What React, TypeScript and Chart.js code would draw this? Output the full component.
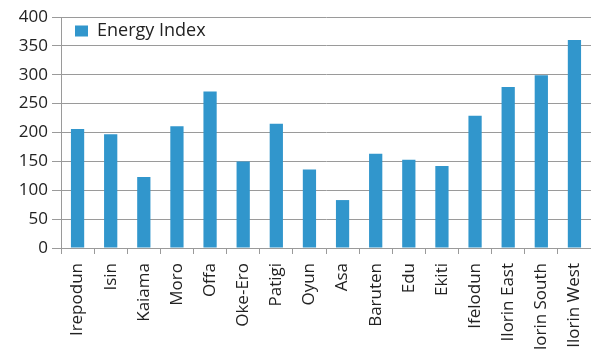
import React, { useEffect, useRef } from "react";
import { Chart, registerables } from "chart.js";

Chart.register(...registerables);

const districts = [
  "Irepodun", "Isin", "Kaiama", "Moro", "Offa", "Oke-Ero", "Patigi", "Oyun",
  "Asa", "Baruten", "Edu", "Ekiti", "Ifelodun", "Ilorin East", "Ilorin South", "Ilorin West",
];
const energyIndex = [206, 197, 123, 211, 271, 150, 215, 136, 83, 163, 153, 142, 229, 279, 299, 360];
const seriesLabel = "Energy Index";

const BAR_COLOR = "#3196cc";
const GRID_COLOR = "#9a9a9a";
const FONT = "'Open Sans', sans-serif";

// Places the legend inside the plot, a little below and right of its top-left corner.
const legendInPlot = {
  id: "legendInPlot",
  afterLayout(chart: any) {
    const lg = chart.legend;
    if (!lg) return;
    const w = lg.width;
    const h = lg.height;
    lg.left = chart.chartArea.left + 4;
    lg.top = chart.chartArea.top - 5;
    lg.right = lg.left + w;
    lg.bottom = lg.top + h;
  },
};

export default function App() {
  const ref = useRef<HTMLCanvasElement | null>(null);

  useEffect(() => {
    if (!ref.current) return;
    const chart = new Chart(ref.current, {
      type: "bar",
      data: {
        labels: districts,
        datasets: [
          {
            label: seriesLabel,
            data: energyIndex,
            backgroundColor: BAR_COLOR,
            borderWidth: 0,
            barPercentage: 0.5,
            categoryPercentage: 0.8,
          },
        ],
      },
      options: {
        animation: false,
        responsive: false,
        layout: { padding: { top: 17, right: 0, left: 0, bottom: 0 } },
        plugins: {
          tooltip: { enabled: false },
          legend: {
            display: true,
            position: "chartArea",
            align: "start",
            labels: {
              boxWidth: 13,
              boxHeight: 11,
              padding: 10,
              color: "#222",
              font: { family: FONT, size: 18 },
            },
          },
        },
        scales: {
          x: {
            grid: {
              display: true,
              drawOnChartArea: false,
              drawTicks: true,
              tickLength: 6,
              color: GRID_COLOR,
            },
            border: { display: true, color: GRID_COLOR },
            ticks: {
              minRotation: 90,
              maxRotation: 90,
              autoSkip: false,
              padding: 9,
              color: "#222",
              font: { family: FONT, size: 17 },
            },
            afterFit: (scale: any) => {
              scale.height = 101;
              scale.paddingLeft = 0;
              scale.paddingRight = 0;
            },
          },
          y: {
            min: 0,
            max: 400,
            ticks: {
              stepSize: 50,
              padding: 4,
              color: "#222",
              font: { family: FONT, size: 17 },
            },
            grid: {
              color: GRID_COLOR,
              drawTicks: true,
              tickLength: 9,
            },
            border: { display: true, color: GRID_COLOR },
            afterFit: (scale: any) => {
              scale.width = 61;
            },
          },
        },
      },
      plugins: [legendInPlot],
    });
    return () => chart.destroy();
  }, []);

  return (
    <div
      style={{
        position: "fixed",
        left: 0,
        top: 0,
        width: 591,
        height: 349,
        overflow: "hidden",
        background: "#fff",
      }}
    >
      <canvas ref={ref} width={591} height={349} style={{ display: "block" }} />
    </div>
  );
}
